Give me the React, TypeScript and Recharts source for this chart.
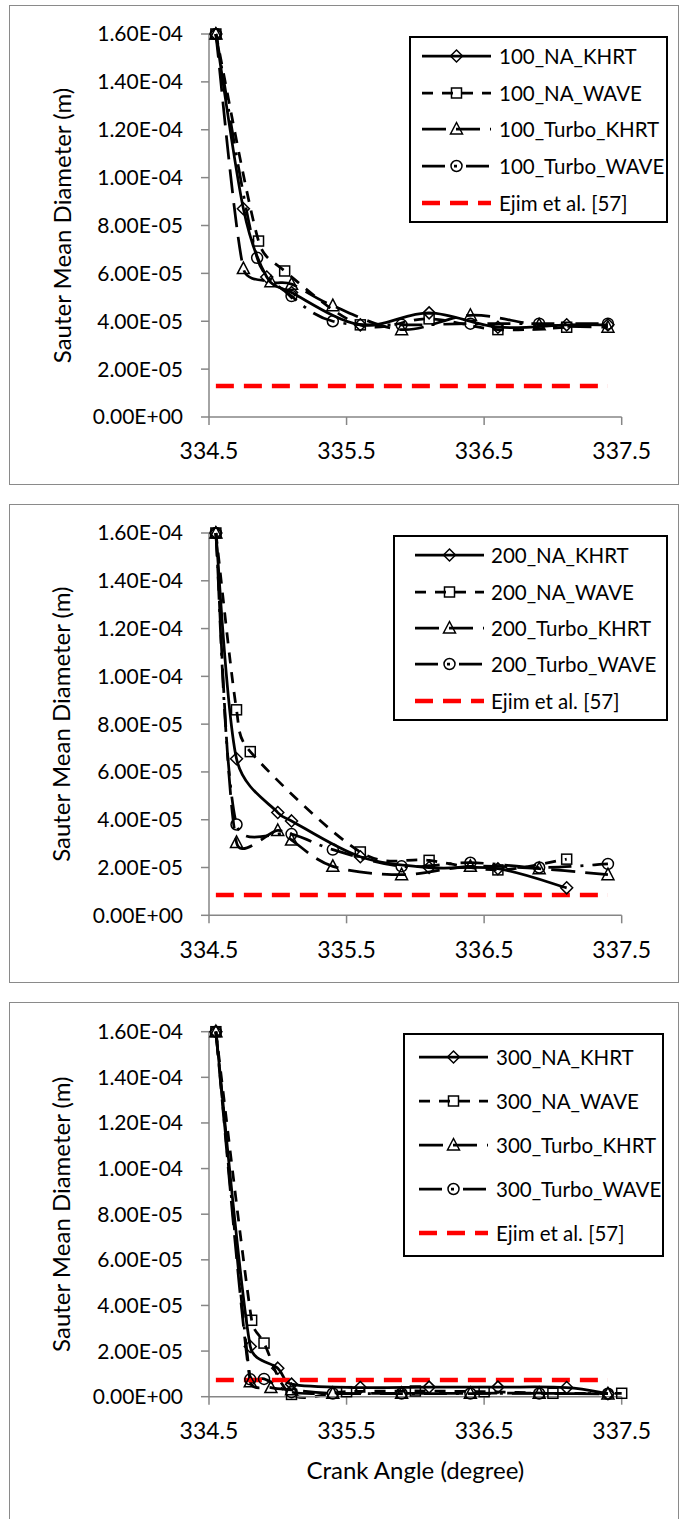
import React from 'react';
import { LineChart, Line, XAxis, YAxis, Legend } from 'recharts';

const FONT = 'Lato, "Open Sans", sans-serif';

// Axis ticks: crank angle (degree) and Sauter mean diameter (m)
const angleTicks = [334.5, 335.5, 336.5, 337.5];
const smdTicks = [0, 2e-5, 4e-5, 6e-5, 8e-5, 1e-4, 1.2e-4, 1.4e-4, 1.6e-4];

// ---- 100 ----
const angle100NaKhrt = [334.55, 334.75, 334.92, 335.1, 335.6, 336.1, 336.6, 337.1, 337.4];
const smd100NaKhrt = [1.6e-4, 8.7e-5, 5.85e-5, 5.2e-5, 3.85e-5, 4.35e-5, 3.75e-5, 3.85e-5, 3.85e-5];
const angle100NaWave = [334.55, 334.86, 335.05, 335.6, 336.1, 336.6, 337.1];
const smd100NaWave = [1.6e-4, 7.35e-5, 6.1e-5, 3.85e-5, 4.1e-5, 3.65e-5, 3.75e-5];
const angle100TurboKhrt = [334.55, 334.75, 334.95, 335.1, 335.4, 335.9, 336.4, 336.9, 337.4];
const smd100TurboKhrt = [1.6e-4, 6.2e-5, 5.65e-5, 5.55e-5, 4.65e-5, 3.65e-5, 4.25e-5, 3.85e-5, 3.75e-5];
const angle100TurboWave = [334.55, 334.85, 335.1, 335.4, 335.9, 336.4, 336.9, 337.4];
const smd100TurboWave = [1.6e-4, 6.65e-5, 5.05e-5, 4.0e-5, 3.85e-5, 3.9e-5, 3.9e-5, 3.9e-5];
const smd100Ejim = [1.3e-5, 1.3e-5];

// ---- 200 ----
const angle200NaKhrt = [334.55, 334.7, 335.0, 335.1, 335.6, 336.1, 336.6, 337.1];
const smd200NaKhrt = [1.6e-4, 6.55e-5, 4.3e-5, 3.95e-5, 2.45e-5, 2.0e-5, 1.95e-5, 1.15e-5];
const angle200NaWave = [334.55, 334.7, 334.8, 335.6, 336.1, 336.6, 337.1];
const smd200NaWave = [1.6e-4, 8.6e-5, 6.85e-5, 2.65e-5, 2.3e-5, 1.9e-5, 2.35e-5];
const angle200TurboKhrt = [334.55, 334.7, 335.0, 335.1, 335.4, 335.9, 336.4, 336.9, 337.4];
const smd200TurboKhrt = [1.6e-4, 3.05e-5, 3.55e-5, 3.15e-5, 2.05e-5, 1.7e-5, 2.05e-5, 1.95e-5, 1.7e-5];
const angle200TurboWave = [334.55, 334.7, 335.1, 335.4, 335.9, 336.4, 336.9, 337.4];
const smd200TurboWave = [1.6e-4, 3.8e-5, 3.4e-5, 2.75e-5, 2.05e-5, 2.2e-5, 2.0e-5, 2.15e-5];
const smd200Ejim = [8.5e-6, 8.5e-6];

// ---- 300 ----
const angle300NaKhrt = [334.55, 334.8, 335.0, 335.1, 335.6, 336.1, 336.6, 337.1, 337.4];
const smd300NaKhrt = [1.6e-4, 2.2e-5, 1.25e-5, 5.5e-6, 4.0e-6, 4.2e-6, 4.2e-6, 4.0e-6, 1.3e-6];
const angle300NaWave = [334.55, 334.81, 334.9, 335.1, 335.5, 336.0, 336.5, 337.0, 337.5];
const smd300NaWave = [1.6e-4, 3.35e-5, 2.35e-5, 1.0e-6, 2.2e-6, 2.5e-6, 2.2e-6, 1.5e-6, 1.5e-6];
const angle300TurboKhrt = [334.55, 334.8, 334.95, 335.1, 335.4, 335.9, 336.4, 336.9, 337.4];
const smd300TurboKhrt = [1.6e-4, 6.5e-6, 4.0e-6, 3.0e-6, 1.5e-6, 1.5e-6, 1.5e-6, 1.5e-6, 1.2e-6];
const angle300TurboWave = [334.55, 334.8, 334.9, 335.1, 335.4, 335.9, 336.4, 336.9, 337.4];
const smd300TurboWave = [1.6e-4, 7.6e-6, 7.8e-6, 2.0e-6, 1.4e-6, 1.4e-6, 1.4e-6, 1.4e-6, 1.3e-6];
const smd300Ejim = [7.3e-6, 7.3e-6];

// Reference line (Ejim et al.) spans the same crank-angle window in every panel
const ejimAngles = [334.55, 337.4];

const seriesSuffixes = ['NA_KHRT', 'NA_WAVE', 'Turbo_KHRT', 'Turbo_WAVE'];
const ejimLabel = 'Ejim et al. [57]';
const yTitle = 'Sauter Mean Diameter (m)';
const xTitle = 'Crank Angle (degree)';

type Shape = 'diamond' | 'square' | 'triangle' | 'circle';
type Row = { angle: number; smd: number };

const zip = (a: number[], v: number[]): Row[] => a.map((angle, i) => ({ angle, smd: v[i] }));

// line look for each of the four model series
const seriesLook: { dash?: string; shape: Shape }[] = [
  { dash: undefined, shape: 'diamond' },
  { dash: '11 9', shape: 'square' },
  { dash: '24 10', shape: 'triangle' },
  { dash: '23 9 3 9', shape: 'circle' },
];

// 1.60E-04 style labels
const sci = (v: number): string => {
  if (v === 0) return '0.00E+00';
  const e = Math.floor(Math.log10(Math.abs(v)) + 1e-9);
  const m = v / Math.pow(10, e);
  const sign = e < 0 ? '-' : '+';
  return `${m.toFixed(2)}E${sign}${String(Math.abs(e)).padStart(2, '0')}`;
};

type Ctx = {
  moveTo(x: number, y: number): void;
  bezierCurveTo(a: number, b: number, c: number, d: number, e: number, f: number): void;
};

// limit a tangent handle to a share of the segment it belongs to
const clampHandle = (vx: number, vy: number, segLen: number): [number, number] => {
  const len = Math.hypot(vx, vy);
  const max = 0.45 * segLen;
  if (len <= max || len === 0) return [vx, vy];
  const k = max / len;
  return [vx * k, vy * k];
};

// Smoothed line: cubic Bezier segments with Catmull-Rom tangents
const smoothCurve = (context: Ctx) => {
  let pts: number[][] = [];
  return {
    areaStart() {},
    areaEnd() {},
    lineStart() {
      pts = [];
    },
    lineEnd() {
      const n = pts.length;
      if (n === 0) return;
      context.moveTo(pts[0][0], pts[0][1]);
      for (let i = 0; i < n - 1; i++) {
        const p0 = pts[Math.max(i - 1, 0)];
        const p1 = pts[i];
        const p2 = pts[i + 1];
        const p3 = pts[Math.min(i + 2, n - 1)];
        const seg = Math.hypot(p2[0] - p1[0], p2[1] - p1[1]);
        const [ax, ay] = clampHandle((p2[0] - p0[0]) / 6, (p2[1] - p0[1]) / 6, seg);
        const [bx, by] = clampHandle((p3[0] - p1[0]) / 6, (p3[1] - p1[1]) / 6, seg);
        context.bezierCurveTo(p1[0] + ax, p1[1] + ay, p2[0] - bx, p2[1] - by, p2[0], p2[1]);
      }
    },
    point(x: number, y: number) {
      pts.push([+x, +y]);
    },
  };
};

const Marker = ({ shape, cx, cy }: { shape: Shape; cx: number; cy: number }) => {
  const common = { fill: 'none', stroke: '#000', strokeWidth: 1.5 };
  if (shape === 'diamond')
    return <polygon points={`${cx},${cy - 6} ${cx + 6},${cy} ${cx},${cy + 6} ${cx - 6},${cy}`} {...common} />;
  if (shape === 'square') return <rect x={cx - 5} y={cy - 5} width={10} height={10} {...common} />;
  if (shape === 'triangle')
    return <polygon points={`${cx},${cy - 6.5} ${cx + 6},${cy + 5} ${cx - 6},${cy + 5}`} {...common} />;
  return <circle cx={cx} cy={cy} r={5.5} {...common} />;
};

const markerDot = (shape: Shape) => (props: any) => {
  const { cx, cy, index } = props;
  if (cx == null || cy == null) return <g key={`m-${index}`} />;
  return (
    <g key={`m-${index}`}>
      <Marker shape={shape} cx={cx} cy={cy} />
    </g>
  );
};

type LegendLayout = { left: number; top: number; width: number; height: number; sampleX: number; textX: number };

const LegendBox = ({ prefix, lay }: { prefix: string; lay: LegendLayout }) => {
  const sampleW = 69;
  const rows = [
    ...seriesSuffixes.map((s, i) => ({ label: `${prefix}_${s}`, look: seriesLook[i], red: false })),
    { label: ejimLabel, look: { dash: '18 10', shape: undefined as Shape | undefined }, red: true },
  ];
  return (
    <div
      style={{
        width: '100%',
        height: '100%',
        boxSizing: 'border-box',
        border: '2px solid #000',
        background: '#fff',
        display: 'flex',
        flexDirection: 'column',
        fontFamily: FONT,
      }}
    >
      {rows.map((r) => (
        <div key={r.label} style={{ flex: 1, position: 'relative' }}>
          <svg
            width={sampleW}
            height={20}
            style={{ position: 'absolute', left: lay.sampleX - 2, top: '50%', marginTop: -10, overflow: 'visible' }}
          >
            <line
              x1={0}
              x2={sampleW}
              y1={10}
              y2={10}
              stroke={r.red ? '#FF0000' : '#000'}
              strokeWidth={r.red ? 4.5 : 2.75}
              strokeDasharray={r.look.dash}
            />
            {r.look.shape ? <Marker shape={r.look.shape} cx={sampleW / 2} cy={10} /> : null}
          </svg>
          <div
            style={{
              position: 'absolute',
              left: lay.textX - 2,
              top: 0,
              bottom: 0,
              display: 'flex',
              alignItems: 'center',
              fontSize: 20.5,
              color: '#000',
              whiteSpace: 'nowrap',
            }}
          >
            {r.label}
          </div>
        </div>
      ))}
    </div>
  );
};

type PanelDef = {
  prefix: string;
  top: number;
  borderHeight: number;
  chartHeight: number;
  plotTop: number;
  plotBottom: number;
  withXTitle: boolean;
  legend: LegendLayout;
  series: Row[][];
  ejim: Row[];
};

const panels: PanelDef[] = [
  {
    prefix: '100',
    top: 5,
    borderHeight: 480,
    chartHeight: 480,
    plotTop: 34,
    plotBottom: 417,
    withXTitle: false,
    legend: { left: 409, top: 36, width: 259, height: 187, sampleX: 12.7, textX: 90 },
    series: [
      zip(angle100NaKhrt, smd100NaKhrt),
      zip(angle100NaWave, smd100NaWave),
      zip(angle100TurboKhrt, smd100TurboKhrt),
      zip(angle100TurboWave, smd100TurboWave),
    ],
    ejim: zip(ejimAngles, smd100Ejim),
  },
  {
    prefix: '200',
    top: 504,
    borderHeight: 479,
    chartHeight: 479,
    plotTop: 533,
    plotBottom: 915.3,
    withXTitle: false,
    legend: { left: 393, top: 535, width: 275, height: 186, sampleX: 22, textX: 98 },
    series: [
      zip(angle200NaKhrt, smd200NaKhrt),
      zip(angle200NaWave, smd200NaWave),
      zip(angle200TurboKhrt, smd200TurboKhrt),
      zip(angle200TurboWave, smd200TurboWave),
    ],
    ejim: zip(ejimAngles, smd200Ejim),
  },
  {
    prefix: '300',
    top: 1002,
    borderHeight: 540,
    chartHeight: 517,
    plotTop: 1031.7,
    plotBottom: 1396.7,
    withXTitle: true,
    legend: { left: 403, top: 1033, width: 261, height: 224, sampleX: 16, textX: 93 },
    series: [
      zip(angle300NaKhrt, smd300NaKhrt),
      zip(angle300NaWave, smd300NaWave),
      zip(angle300TurboKhrt, smd300TurboKhrt),
      zip(angle300TurboWave, smd300TurboWave),
    ],
    ejim: zip(ejimAngles, smd300Ejim),
  },
];

const CHART_W = 681;
const PLOT_LEFT = 209;
const PLOT_RIGHT = 621.7;
const axisStroke = { stroke: '#868686', strokeWidth: 1.5 };

const Panel = ({ p }: { p: PanelDef }) => {
  const plotTopRel = p.plotTop - p.top;
  const plotBottomRel = p.plotBottom - p.top;
  const xAxisH = p.withXTitle ? 90 : 40;
  const margin = {
    top: plotTopRel,
    left: 0,
    right: CHART_W - PLOT_RIGHT,
    bottom: p.chartHeight - plotBottomRel - xAxisH,
  };
  const yMid = (plotTopRel + plotBottomRel) / 2;
  const xMid = (PLOT_LEFT + PLOT_RIGHT) / 2;

  return (
    <>
      <div
        style={{
          position: 'absolute',
          left: 9,
          top: p.top,
          width: 670,
          height: p.borderHeight,
          border: '1.5px solid #8a8a8a',
          boxSizing: 'border-box',
        }}
      />
      <div style={{ position: 'absolute', left: 0, top: p.top }}>
        <LineChart width={CHART_W} height={p.chartHeight} margin={margin}>
          <XAxis
            type="number"
            dataKey="angle"
            domain={[334.5, 337.5]}
            ticks={angleTicks}
            interval={0}
            height={xAxisH}
            tickSize={8}
            tickMargin={18}
            axisLine={axisStroke}
            tickLine={axisStroke}
            tick={{ fill: '#000', fontSize: 23, fontFamily: FONT }}
            label={
              p.withXTitle
                ? () => (
                    <text
                      x={xMid}
                      y={plotBottomRel + 82.3}
                      textAnchor="middle"
                      fontSize={24}
                      fontFamily={FONT}
                      fill="#000"
                    >
                      {xTitle}
                    </text>
                  )
                : undefined
            }
          />
          <YAxis
            type="number"
            domain={[0, 1.6e-4]}
            ticks={smdTicks}
            interval={0}
            width={PLOT_LEFT}
            tickSize={8}
            tickMargin={18}
            tickFormatter={sci}
            axisLine={axisStroke}
            tickLine={axisStroke}
            tick={{ fill: '#000', fontSize: 21, fontFamily: FONT }}
            label={() => (
              <text
                x={61}
                y={yMid}
                transform={`rotate(-90 61 ${yMid})`}
                textAnchor="middle"
                dominantBaseline="central"
                fontSize={24}
                fontFamily={FONT}
                fill="#000"
              >
                {yTitle}
              </text>
            )}
          />
          <Legend
            layout="horizontal"
            verticalAlign="middle"
            align="center"
            wrapperStyle={{
              left: p.legend.left,
              top: p.legend.top - p.top,
              width: p.legend.width,
              height: p.legend.height,
            }}
            content={() => <LegendBox prefix={p.prefix} lay={p.legend} />}
          />
          {p.series.map((rows, i) => (
            <Line
              key={seriesSuffixes[i]}
              data={rows}
              dataKey="smd"
              type={smoothCurve as any}
              stroke="#000"
              strokeWidth={2.75}
              strokeDasharray={seriesLook[i].dash}
              dot={markerDot(seriesLook[i].shape)}
              activeDot={false}
              legendType="none"
              isAnimationActive={false}
            />
          ))}
          <Line
            data={p.ejim}
            dataKey="smd"
            type="linear"
            stroke="#FF0000"
            strokeWidth={4.5}
            strokeDasharray="18 10"
            dot={false}
            activeDot={false}
            legendType="none"
            isAnimationActive={false}
          />
        </LineChart>
      </div>
    </>
  );
};

export default function App() {
  return (
    <div
      style={{
        position: 'absolute',
        left: 0,
        top: 0,
        width: 681,
        height: 1519,
        overflow: 'hidden',
        background: '#fff',
        fontFamily: FONT,
      }}
    >
      {panels.map((p) => (
        <Panel key={p.prefix} p={p} />
      ))}
    </div>
  );
}
